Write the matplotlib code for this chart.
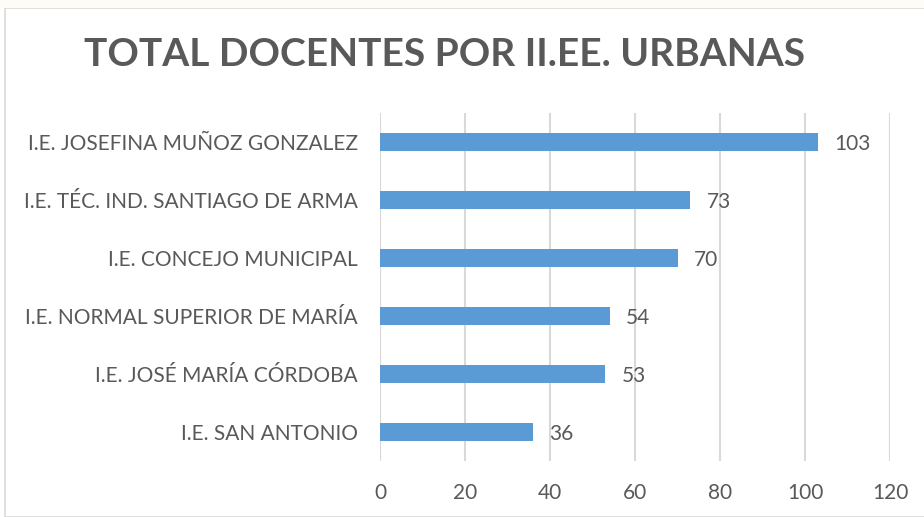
import matplotlib
matplotlib.use("Agg")
import matplotlib.pyplot as plt
from matplotlib.patches import Rectangle

# ---- data ----
schools = [
    "I.E. JOSEFINA MUÑOZ GONZALEZ",
    "I.E. TÉC. IND. SANTIAGO DE ARMA",
    "I.E. CONCEJO MUNICIPAL",
    "I.E. NORMAL SUPERIOR DE MARÍA",
    "I.E. JOSÉ MARÍA CÓRDOBA",
    "I.E. SAN ANTONIO",
]
teachers = [103, 73, 70, 54, 53, 36]
x_ticks = [0, 20, 40, 60, 80, 100, 120]

# ---- style ----
W, H = 924, 517
txt = "#595959"
plt.rcParams["font.family"] = ["Lato", "DejaVu Sans"]

fig = plt.figure(figsize=(W / 100, H / 100), dpi=100)
fig.patch.set_facecolor("white")

# chart frame (Excel-like border)
fig.patches.append(Rectangle((5 / W, 0), 1, 1 - 8 / H, transform=fig.transFigure,
                             fill=False, edgecolor="#D9D9D9", linewidth=1.2))
fig.patches.append(Rectangle((0, 1 - 8 / H), 1, 8 / H, transform=fig.transFigure,
                             facecolor="#FDFCF7", edgecolor="none"))

ax = fig.add_axes([380 / W, 1 - 461 / H, 510 / W, 348 / H])

ypos = list(range(len(schools)))
ax.barh(ypos, teachers, height=0.31, color="#5B9BD5", zorder=3)
for y, v in zip(ypos, teachers):
    ax.text(v + 3.8, y + 0.03, str(v), va="center", ha="left",
            fontsize=15, color=txt)

ax.set_yticks(ypos)
ax.set_yticklabels(schools, fontsize=15, color=txt)
ax.invert_yaxis()
ax.set_ylim(len(schools) - 0.5, -0.5)
ax.set_xlim(0, 120)
ax.set_xticks(x_ticks)
ax.set_xticklabels([str(t) for t in x_ticks], fontsize=15, color=txt)
ax.tick_params(axis="y", length=0, pad=16)
ax.tick_params(axis="x", length=0, pad=16)
ax.grid(axis="x", color="#D9D9D9", linewidth=1.5, zorder=0)
for s in ax.spines.values():
    s.set_visible(False)

fig.text(445 / W, 1 - 54 / H, "TOTAL DOCENTES POR II.EE. URBANAS",
         ha="center", va="center", fontsize=28, fontweight="bold", color=txt)

fig.savefig("out.png", dpi=100)
plt.close(fig)
